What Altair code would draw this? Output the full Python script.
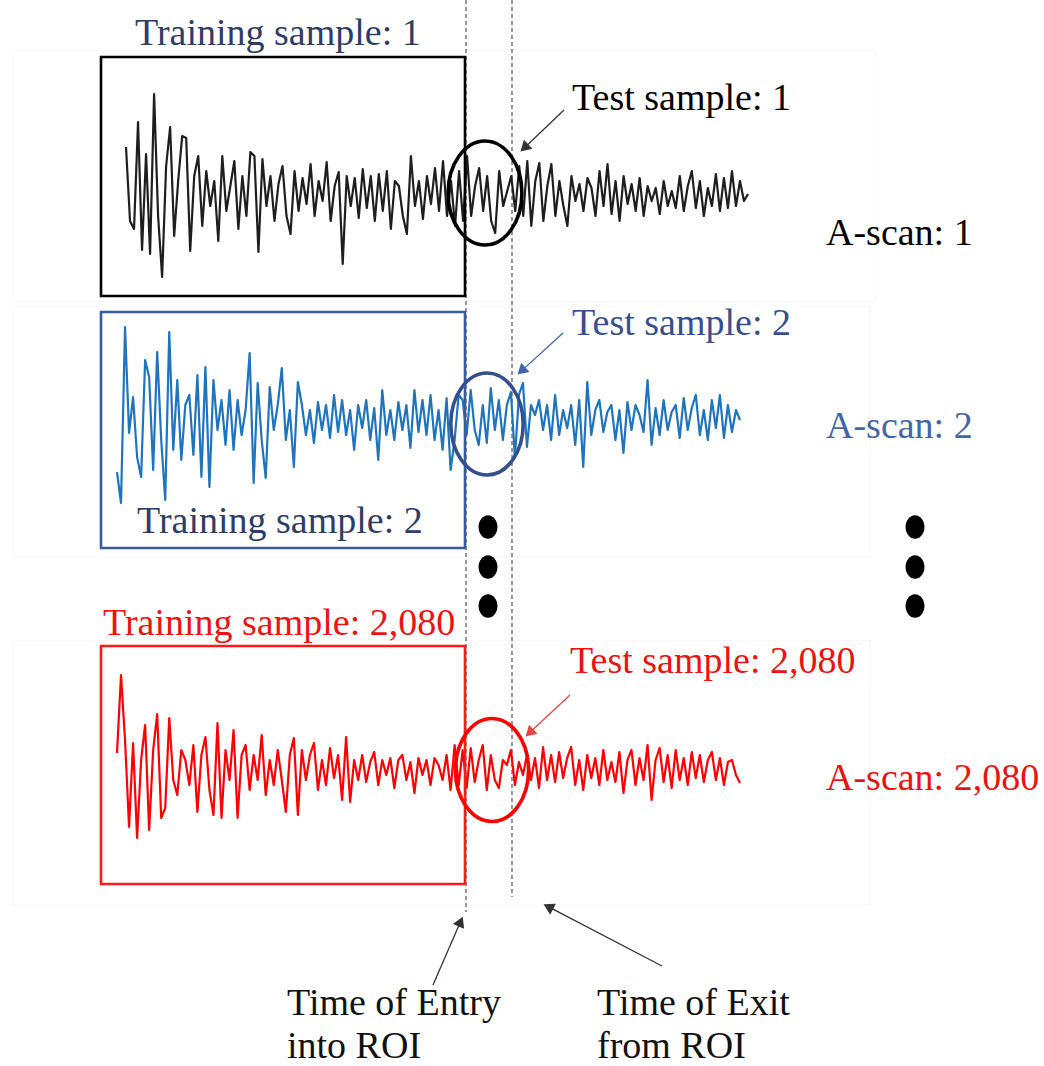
import math
import altair as alt
import pandas as pd

# ---------------- data ----------------
# A-scan amplitudes, pixel units, positive = upward
ascan_1 = [49, -25, -33, 74, -54, 42, -58, 102, -20, -81, 30, 69, -40, 15, 60, 58, -55, 20, 40, -30,
           25, -10, 15, -45, 40, -15, 10, 35, -33, 20, -20, 44, 40, -56, 37, -10, 20, -25, 12, 30,
           -20, -38, 25, -15, 18, -8, 32, -20, 15, -5, 34, -25, 10, 24, -68, 20, -10, 18, -22, 27,
           -12, 20, -25, 22, -15, 25, -33, 15, 10, -20, -38, 40, -10, 15, -23, 20, -8, 28, -15, 35,
           -20, 15, -30, 25, -25, 40, -20, 10, 28, -15, 20, -25, -37, 25, -10, 5, 20, -15, 30, -20,
           35, -30, 15, 33, -25, 10, 32, -20, 15, -10, -30, 20, -5, 12, -15, 18, 8, -20, 25, -10,
           32, -18, 15, -25, 20, -8, 12, -15, 18, -20, 10, -5, 8, -18, 15, -10, 5, -12, 20, -15,
           10, 25, -12, 15, -20, 8, -10, 22, -15, 18, -12, 25, -10, 15, -5, 2]
ascan_2 = [-52, -83, 93, -13, 23, -37, -57, 60, 43, -50, 68, -20, -80, 88, -30, 40, -40, 15, 25, -35,
           45, -57, 53, -67, 40, -10, 20, -25, 30, -30, 20, -15, 10, 67, -63, 37, -20, -58, 33, -10,
           15, 52, -20, 10, -47, 38, 15, -15, 10, -23, 18, -10, 15, -18, 25, -12, 20, -15, 10, -30,
           15, -8, 20, -20, 12, -40, 30, -15, 10, -20, 18, -10, 15, -28, 30, -12, 20, -15, 25, -20,
           10, -30, 22, -50, -20, 25, 20, -15, 30, -10, -25, 15, -23, 32, -10, 20, -20, 15, 28, -38,
           25, 37, -27, 15, 5, 20, -10, 15, -20, 25, -15, 10, -8, 15, -25, 20, -47, 38, -15, 10,
           20, -12, 8, 15, -20, 10, -33, 18, -10, 15, 5, -12, 40, -25, 12, -15, 20, -10, 8, 15,
           -18, 22, -10, 12, 25, -15, 10, -20, 20, -8, 25, -18, 15, -12, 10, 0]
ascan_2080 = [17, 95, 30, -57, 27, -68, 10, 45, -60, 20, 56, -48, -38, 52, -10, -25, 20, 10, -15, 25,
              -42, 15, 33, -20, -45, 47, -48, 20, -10, 40, -48, 15, 25, -20, 15, -10, 35, -25, 10, -15,
              20, -10, -42, 15, 32, -45, 20, -10, 15, 27, -20, 10, -15, 22, -8, 15, -30, 33, -32, 10,
              -10, 15, -12, 8, 18, -15, 10, -5, 12, -18, 10, 15, -10, 8, -23, 12, -5, 10, -15, 12,
              5, -10, 15, -20, 25, -15, 20, -18, 22, -12, 10, 25, -20, 15, -10, -18, 10, 5, 20, -15,
              8, -5, 15, -10, 12, -18, 23, -10, 15, -12, 18, -8, 12, 23, -15, 10, -20, 15, -8, 12,
              -15, 20, -10, 8, -12, 18, -23, 10, 20, -15, 12, -10, 25, -30, 10, 22, -12, 15, -18, 20,
              -10, 12, -15, 18, -8, 15, -12, 10, 18, -10, 12, -15, 8, 10, -5, -13]

labels_training = ["Training sample: 1", "Training sample: 2", "Training sample: 2,080"]
labels_test = ["Test sample: 1", "Test sample: 2", "Test sample: 2,080"]
labels_ascan = ["A-scan: 1", "A-scan: 2", "A-scan: 2,080"]
labels_bottom = ["Time of Entry", "into ROI", "Time of Exit", "from ROI"]

# ---------------- layout (pixels in a 1044 x 1066 canvas) ----------------
W, H = 1044, 1066
FONT = "Liberation Serif"
FS = 38

rows = [
    dict(sig=ascan_1, x0=126, x1=748, yc=196, line="#1e1e1e", box="#000000", box_y=(57, 296),
         circ="#000000", ell=(485, 193, 104), lab_train_c="#2e3d66", lab_train=(135, 45),
         lab_test_c="#000000", lab_test=(572, 110), lab_scan_c="#000000", lab_scan=(826, 245),
         arrow=((564, 110), (520, 152)), arrow_c="#333333"),
    dict(sig=ascan_2, x0=117, x1=740, yc=420, line="#1f74bd", box="#3a5a9a", box_y=(312, 548),
         circ="#33508e", ell=(487, 424, 102), lab_train_c="#2e3d66", lab_train=(137, 533),
         lab_test_c="#34508f", lab_test=(572, 335), lab_scan_c="#4266a8", lab_scan=(826, 438),
         arrow=((563, 333), (517, 375)), arrow_c="#4266a8"),
    dict(sig=ascan_2080, x0=117, x1=740, yc=770, line="#ff0000", box="#ff1a1a", box_y=(646, 884),
         circ="#ff0000", ell=(492, 770, 103), lab_train_c="#ee1111", lab_train=(103, 635),
         lab_test_c="#ee1111", lab_test=(570, 673), lab_scan_c="#ee1111", lab_scan=(826, 790),
         arrow=((570, 695), (525, 737)), arrow_c="#e84545"),
]

xs = alt.Scale(domain=[0, W], nice=False, zero=False)
ys = alt.Scale(domain=[0, H], nice=False, zero=False, reverse=True)
X = lambda f: alt.X(f, type="quantitative", scale=xs, axis=None)
Y = lambda f: alt.Y(f, type="quantitative", scale=ys, axis=None)

# signals
sig_rows = []
for k, r in enumerate(rows):
    n = len(r["sig"])
    for i, v in enumerate(r["sig"]):
        sig_rows.append(dict(s=k, i=i, x=r["x0"] + i * (r["x1"] - r["x0"]) / (n - 1),
                             y=r["yc"] - v, c=r["line"]))
sig_df = pd.DataFrame(sig_rows)
signals = alt.Chart(sig_df).mark_line(strokeWidth=2.2, strokeJoin="round").encode(
    x=X("x"), y=Y("y"), detail="s:N", order="i:Q",
    color=alt.Color("c:N", scale=None))

# faint panel frames
panels = pd.DataFrame([dict(x=13, x2=876, y=50, y2=302), dict(x=13, x2=870, y=306, y2=557),
                       dict(x=13, x2=870, y=640, y2=905)])
panel_layer = alt.Chart(panels).mark_rect(fillOpacity=0, stroke="#f6f6f6", strokeWidth=1).encode(
    x=X("x"), x2="x2", y=Y("y"), y2="y2")

# training boxes
boxes = pd.DataFrame([dict(x=101, x2=465, y=r["box_y"][0], y2=r["box_y"][1], c=r["box"]) for r in rows])
box_layer = alt.Chart(boxes).mark_rect(fillOpacity=0, strokeWidth=2.6).encode(
    x=X("x"), x2="x2", y=Y("y"), y2="y2", stroke=alt.Stroke("c:N", scale=None))

# ROI dashed lines
roi = pd.DataFrame([dict(x=466, y=0, y2=912), dict(x=512, y=0, y2=897)])
roi_layer = alt.Chart(roi).mark_rule(color="#444444", strokeWidth=1.1, strokeDash=[4, 3]).encode(
    x=X("x"), y=Y("y"), y2="y2")

# ellipses (test-sample windows)
ELL = "M -0.71 0 A 0.71 1 0 1 0 0.71 0 A 0.71 1 0 1 0 -0.71 0 Z"
ell_df = pd.DataFrame([dict(x=r["ell"][0], y=r["ell"][1], s=r["ell"][2] ** 2, c=r["circ"]) for r in rows])
ell_layer = alt.Chart(ell_df).mark_point(shape=ELL, filled=False, strokeWidth=3.6, opacity=1).encode(
    x=X("x"), y=Y("y"), size=alt.Size("s:Q", scale=None), color=alt.Color("c:N", scale=None))

# arrows
arrows = [(r["arrow"][0], r["arrow"][1], r["arrow_c"]) for r in rows]
arrows += [((433, 985), (463, 916), "#333333"), ((662, 966), (543, 904), "#333333")]
shaft, heads = [], []
for (sx, sy), (tx, ty), c in arrows:
    dx, dy = tx - sx, ty - sy
    L = math.hypot(dx, dy)
    ux, uy = dx / L, dy / L
    shaft.append(dict(x=sx, y=sy, x2=tx - ux * 8, y2=ty - uy * 8, c=c))
    heads.append(dict(x=tx - ux * 6, y=ty - uy * 6, a=math.degrees(math.atan2(dx, -dy)) % 360, c=c))
shaft_layer = alt.Chart(pd.DataFrame(shaft)).mark_rule(strokeWidth=1.3).encode(
    x=X("x"), y=Y("y"), x2="x2", y2="y2", color=alt.Color("c:N", scale=None))
head_layer = alt.Chart(pd.DataFrame(heads)).mark_point(shape="triangle-up", filled=True, size=150,
                                                       opacity=1).encode(
    x=X("x"), y=Y("y"), angle=alt.Angle("a:Q", scale=None), color=alt.Color("c:N", scale=None))

# ellipsis dots
dots = pd.DataFrame([dict(x=x, y=y) for x in (488, 915) for y in (527, 567, 606)])
dot_layer = alt.Chart(dots).mark_point(shape="M -0.8 0 A 0.8 1 0 1 0 0.8 0 A 0.8 1 0 1 0 -0.8 0 Z",
                                       filled=True, size=560, color="#000000", opacity=1).encode(
    x=X("x"), y=Y("y"))

# texts
txt = []
for k, r in enumerate(rows):
    txt.append(dict(t=labels_training[k], x=r["lab_train"][0], y=r["lab_train"][1], c=r["lab_train_c"]))
    txt.append(dict(t=labels_test[k], x=r["lab_test"][0], y=r["lab_test"][1], c=r["lab_test_c"]))
    txt.append(dict(t=labels_ascan[k], x=r["lab_scan"][0], y=r["lab_scan"][1], c=r["lab_scan_c"]))
for t, (x, y) in zip(labels_bottom, [(287, 1015), (287, 1058), (597, 1015), (597, 1058)]):
    txt.append(dict(t=t, x=x, y=y, c="#111111"))
text_layer = alt.Chart(pd.DataFrame(txt)).mark_text(font=FONT, fontSize=FS, align="left",
                                                    baseline="alphabetic").encode(
    x=X("x"), y=Y("y"), text="t:N", color=alt.Color("c:N", scale=None))

chart = alt.layer(panel_layer, roi_layer, signals, box_layer, ell_layer, shaft_layer, head_layer,
                  dot_layer, text_layer).properties(
    width=W, height=H, padding=0, autosize=alt.AutoSizeParams(type="none"),
    background="white").configure_view(stroke=None)

chart.save("out.html", embed_options={"renderer": "svg", "actions": False})
